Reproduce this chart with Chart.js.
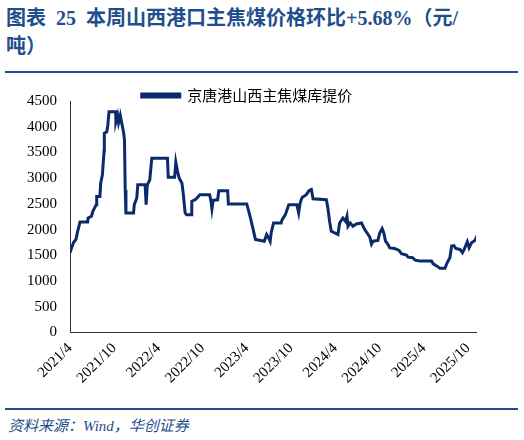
<!DOCTYPE html>
<html>
<head>
<meta charset="utf-8">
<script src="https://cdn.jsdelivr.net/npm/chart.js@4.4.1/dist/chart.umd.min.js"></script>
<style>
  html, body { margin: 0; padding: 0; background: #fff; }
  body { width: 524px; height: 440px; position: relative; overflow: hidden; }
  #title {
    position: absolute; left: 6px; top: 4px; width: 510px;
    font-family: "Liberation Serif", "Noto Sans CJK SC", serif;
    font-weight: bold; font-size: 20px; line-height: 28px; color: #1f4e8c;
  }
  .rule { position: absolute; left: 5px; width: 513px; height: 2px; background: #1f4e8c; }
  #source {
    position: absolute; left: 8px; top: 414px;
    font-family: "Liberation Serif", "Noto Sans CJK SC", serif;
    font-style: italic; font-size: 15px; color: #1f4e8c;
  }
  #wrap { position: absolute; left: 0; top: 82px; width: 524px; height: 308px; }
</style>
</head>
<body>
<div id="title">图表&nbsp; 25&nbsp; 本周山西港口主焦煤价格环比+5.68%（元/<br>吨）</div>
<div class="rule" style="top:71px"></div>
<div id="wrap"><canvas id="myChart"></canvas></div>
<div class="rule" style="top:408px"></div>
<div id="source">资料来源：Wind，华创证券</div>

<script>
// price change points (元/吨), weekly series reduced to turns
var dates = [
  '2021-04-01','2021-04-08','2021-04-15','2021-04-26','2021-05-01','2021-05-12','2021-06-13','2021-06-15',
  '2021-06-29','2021-07-04','2021-07-18','2021-07-20','2021-08-03','2021-08-06','2021-08-13','2021-08-20',
  '2021-08-21','2021-08-31','2021-09-05','2021-09-10','2021-10-07','2021-10-08','2021-10-15','2021-10-19',
  '2021-10-26','2021-11-02','2021-11-09','2021-11-13','2021-11-16','2021-11-19','2021-12-20','2021-12-23',
  '2022-01-03','2022-01-07','2022-02-07','2022-02-11','2022-02-16','2022-02-26','2022-03-04','2022-05-08',
  '2022-05-11','2022-06-07','2022-06-12','2022-06-19','2022-06-26','2022-07-07','2022-07-12','2022-07-20',
  '2022-07-26','2022-08-15','2022-08-17','2022-09-03','2022-09-20','2022-10-30','2022-11-05','2022-11-09',
  '2022-11-14','2022-12-02','2022-12-07','2023-01-13','2023-01-16','2023-03-31','2023-04-07','2023-04-14',
  '2023-04-25','2023-05-06','2023-06-12','2023-06-22','2023-06-30','2023-07-06','2023-07-10','2023-07-20',
  '2023-08-21','2023-08-25','2023-09-08','2023-09-22','2023-10-25','2023-11-02','2023-11-08','2023-11-16',
  '2023-12-03','2023-12-14','2023-12-24','2023-12-31','2024-02-25','2024-03-01','2024-03-08','2024-03-15',
  '2024-03-29','2024-04-12','2024-04-19','2024-05-02','2024-05-13','2024-05-19','2024-05-23','2024-06-02',
  '2024-06-13','2024-06-27','2024-07-18','2024-08-01','2024-08-15','2024-08-22','2024-08-29','2024-09-05',
  '2024-09-25','2024-10-02','2024-10-12','2024-10-19','2024-10-26','2024-11-06','2024-11-13','2024-12-03',
  '2024-12-21','2024-12-31','2025-01-21','2025-01-28','2025-02-16','2025-02-27','2025-03-15','2025-05-03',
  '2025-05-09','2025-05-24','2025-06-07','2025-06-28','2025-07-07','2025-07-18','2025-07-25','2025-08-04',
  '2025-08-12','2025-08-29','2025-09-09','2025-09-16','2025-09-29','2025-10-06','2025-10-16','2025-10-30',
  '2025-11-09'
];
var prices = [
  1550,1650,1745,1815,1940,2150,2150,2225,
  2260,2355,2485,2645,2645,2900,3065,3530,
  3870,3900,4030,4290,4290,4095,4220,4080,
  4220,4060,3900,3740,2775,2325,2325,2485,
  2615,2870,2870,2485,2870,2965,3385,3385,
  3020,3020,3310,3130,3000,2900,2710,2325,
  2290,2290,2550,2590,2680,2680,2550,2400,
  2570,2580,2755,2755,2500,2500,2390,2260,
  2045,1810,1775,1905,1840,1775,1935,2130,
  2130,2195,2290,2485,2485,2325,2515,2625,
  2680,2755,2780,2600,2580,2420,2160,1970,
  1935,1905,2130,2225,2160,2260,2065,2130,
  2065,2110,2130,2000,1905,1855,1720,1775,
  1790,1935,2020,1935,1775,1710,1645,1635,
  1595,1530,1505,1465,1455,1405,1390,1390,
  1340,1295,1250,1250,1360,1455,1680,1690,
  1635,1615,1550,1615,1765,1645,1745,1790,
  1890
];
var tickLabels = ['2021/4','2021/10','2022/4','2022/10','2023/4','2023/10','2024/4','2024/10','2025/4','2025/10'];
var seriesName = '京唐港山西主焦煤库提价';

// months since 2021/4
function toMonths(s) {
  var p = s.split('-');
  return (parseInt(p[0]) - 2021) * 12 + (parseInt(p[1]) - 4) + (parseInt(p[2]) - 1) / 30.4;
}

var points = [];
for (var i = 0; i < dates.length; i++) {
  points.push({ x: toMonths(dates[i]), y: prices[i] });
}

// legend sits right on top of the plot, so pull the plot up under it
// (and give the height back while drawing, otherwise the legend clips its own text)
var TRIM = 12;
var tightLegend = {
  id: 'tightLegend',
  beforeInit: function (chart) {
    var lg = chart.legend;
    var fit = lg.fit;
    var draw = lg.draw;
    lg.fit = function () {
      fit.call(this);
      this.height -= TRIM;
    };
    lg.draw = function () {
      this.bottom += TRIM;
      this.height += TRIM;
      draw.call(this);
      this.bottom -= TRIM;
      this.height -= TRIM;
    };
  }
};

var serif = '"Liberation Serif", "Times New Roman", serif';
var ctx = document.getElementById('myChart').getContext('2d');
var myChart = new Chart(ctx, {
  type: 'line',
  data: {
    datasets: [{
      label: seriesName,
      data: points,
      borderColor: '#0b2a6b',
      backgroundColor: '#0b2a6b',
      borderWidth: 3,
      pointRadius: 0,
      tension: 0
    }]
  },
  plugins: [tightLegend],
  options: {
    responsive: true,
    maintainAspectRatio: false,
    animation: false,
    layout: { padding: { left: 18, right: 48, top: 0, bottom: 0 } },
    plugins: {
      legend: {
        display: true,
        position: 'top',
        labels: {
          boxWidth: 38,
          boxHeight: 3,
          padding: 6,
          color: '#000',
          font: { family: '"Noto Sans CJK SC", sans-serif', size: 15 }
        }
      },
      tooltip: { enabled: false }
    },
    scales: {
      x: {
        type: 'linear',
        min: 0,
        max: 55.1,
        grid: { display: false, drawTicks: true, tickLength: 4, color: '#333' },
        border: { color: '#333', width: 1 },
        afterBuildTicks: function (axis) {
          axis.ticks = tickLabels.map(function (l, k) { return { value: k * 6 }; });
        },
        ticks: {
          autoSkip: false,
          maxRotation: 45,
          minRotation: 45,
          color: '#000',
          font: { family: serif, size: 15 },
          callback: function (v) { return tickLabels[Math.round(v / 6)]; }
        }
      },
      y: {
        min: 0,
        max: 4500,
        grid: { display: false, drawTicks: true, tickLength: 4, color: '#333' },
        border: { color: '#333', width: 1 },
        ticks: {
          stepSize: 500,
          color: '#000',
          padding: 9,
          font: { family: serif, size: 15 },
          callback: function (v) { return String(v); }
        }
      }
    }
  }
});
</script>
</body>
</html>
